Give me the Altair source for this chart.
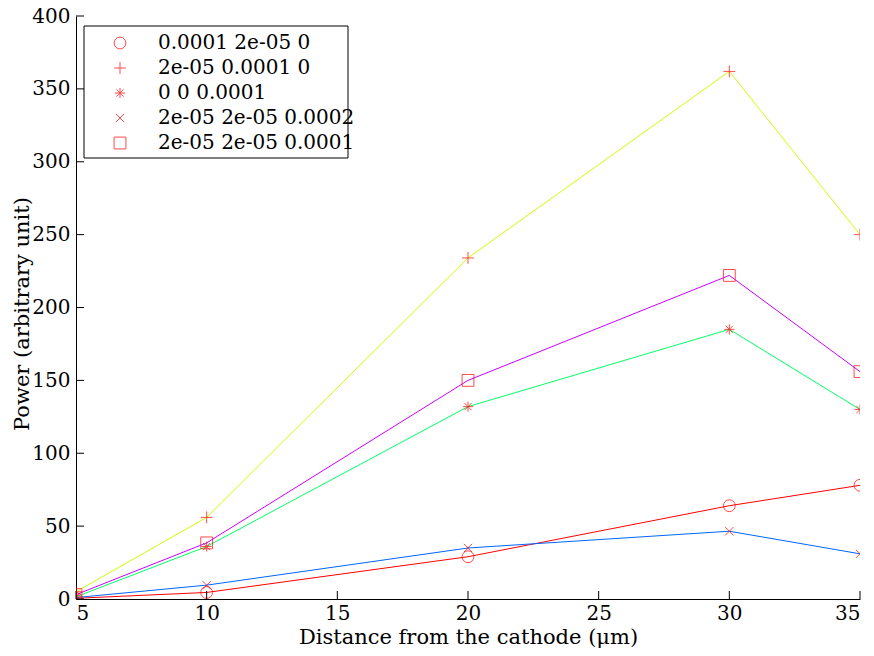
import altair as alt
import pandas as pd

# ---- data ----
x_vals = [5, 10, 20, 30, 35]
series_names = [
    "0.0001 2e-05 0",
    "2e-05 0.0001 0",
    "0 0 0.0001",
    "2e-05 2e-05 0.0002",
    "2e-05 2e-05 0.0001",
]
s1 = [0.5, 4.5, 29, 64, 78]
s2 = [5, 56, 234, 362, 250]
s3 = [1.5, 36, 132, 185, 130]
s4 = [1, 9.5, 35, 46.5, 31]
s5 = [3, 38.5, 150, 222, 156]
series_values = [s1, s2, s3, s4, s5]

x_ticks = [5, 10, 15, 20, 25, 30, 35]
y_ticks = [0, 50, 100, 150, 200, 250, 300, 350, 400]

line_colors = ["#ff0000", "#ccff00", "#00ff66", "#0066ff", "#cc00ff"]
marker_shapes = [
    "circle",
    "M-1,0L1,0M0,-1L0,1",
    "M-0.85,0L0.85,0M0,-0.85L0,0.85M-0.6,-0.6L0.6,0.6M-0.6,0.6L0.6,-0.6",
    "M-0.7,-0.7L0.7,0.7M-0.7,0.7L0.7,-0.7",
    "square",
]

rows = []
for i, (name, vals) in enumerate(zip(series_names, series_values)):
    for xv, yv in zip(x_vals, vals):
        rows.append({"x": xv, "y": yv, "series": name, "line_id": i})
df = pd.DataFrame(rows)
line_ids = list(range(len(series_names)))

FONT = "DejaVu Serif"
W, H = 784, 583

xscale = alt.Scale(domain=[5, 35], nice=False, zero=False)
yscale = alt.Scale(domain=[0, 400], nice=False)

base = alt.Chart(df)

lines = base.mark_line(strokeWidth=1, clip=True).encode(
    x=alt.X(
        "x:Q",
        scale=xscale,
        axis=alt.Axis(
            values=x_ticks,
            title="Distance from the cathode (μm)",
            tickSize=0,
            labelPadding=4,
            grid=False,
            titleFontWeight="normal",
            titleY=38,
            titleBaseline="middle",
        ),
    ),
    y=alt.Y(
        "y:Q",
        scale=yscale,
        axis=alt.Axis(
            values=y_ticks,
            title="Power (arbitrary unit)",
            tickSize=0,
            labelPadding=6,
            grid=False,
            titleFontWeight="normal",
            titleX=-54,
            titleY=H / 2 + 6,
            titleBaseline="middle",
            titleAngle=-90,
        ),
    ),
    color=alt.Color(
        "line_id:N",
        scale=alt.Scale(domain=line_ids, range=line_colors),
        legend=None,
    ),
    detail="line_id:N",
)

points = base.mark_point(filled=False, color="#ff0000", strokeWidth=1, size=140, clip=True).encode(
    x=alt.X("x:Q", scale=xscale),
    y=alt.Y("y:Q", scale=yscale),
    shape=alt.Shape(
        "series:N",
        scale=alt.Scale(domain=series_names, range=marker_shapes),
        legend=None,
    ),
)

tdf_x = pd.DataFrame({"t": x_ticks})
tdf_y = pd.DataFrame({"t": y_ticks})

xticks = alt.Chart(tdf_x).mark_rule(color="black", strokeWidth=1).encode(
    x=alt.X("t:Q", scale=xscale),
    y=alt.value(H),
    y2=alt.value(H - 8),
)
yticks = alt.Chart(tdf_y).mark_rule(color="black", strokeWidth=1).encode(
    y=alt.Y("t:Q", scale=yscale),
    x=alt.value(0),
    x2=alt.value(8),
)

# ---- legend box (drawn as marks so the serif font is honoured) ----
LEG_X0, LEG_X1, LEG_Y0, LEG_Y1 = 8, 272, 10, 142
SYM_X, TXT_X, ROW0, ROW_STEP = 44, 82, 27, 25

legend_box = alt.Chart(pd.DataFrame({"a": [0]})).mark_rect(
    fill="white", stroke="black", strokeWidth=1
).encode(
    x=alt.value(LEG_X0), x2=alt.value(LEG_X1),
    y=alt.value(LEG_Y0), y2=alt.value(LEG_Y1),
)

legend_layers = [legend_box]
for i, name in enumerate(series_names):
    row_df = pd.DataFrame({"label": [name]})
    ypix = ROW0 + ROW_STEP * i
    legend_layers.append(
        alt.Chart(row_df).mark_point(
            filled=False, color="#ff0000", strokeWidth=1, size=140, shape=marker_shapes[i]
        ).encode(x=alt.value(SYM_X), y=alt.value(ypix))
    )
    legend_layers.append(
        alt.Chart(row_df).mark_text(
            font=FONT, fontSize=20, color="black", align="left", baseline="middle"
        ).encode(x=alt.value(TXT_X), y=alt.value(ypix), text="label:N")
    )

chart = (
    alt.layer(lines, points, xticks, yticks, *legend_layers)
    .properties(
        width=W,
        height=H,
        autosize=alt.AutoSizeParams(type="none"),
        padding={"left": 76, "top": 16, "right": 14, "bottom": 57},
        background="white",
    )
    .configure(font=FONT)
    .configure_view(stroke=None)
    .configure_axis(
        labelFont=FONT,
        titleFont=FONT,
        labelFontSize=20,
        titleFontSize=21,
        labelColor="black",
        titleColor="black",
        domainColor="black",
        domainWidth=1,
    )
    .configure_axisY(labelAlign="right", labelBaseline="middle")
)

chart.save("out.html", embed_options={"renderer": "svg", "actions": False})
